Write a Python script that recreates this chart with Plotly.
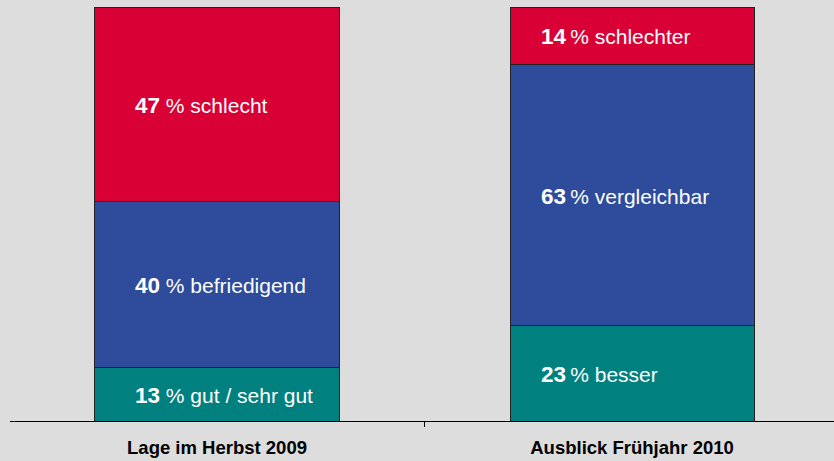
import plotly.graph_objects as go

categories = ["Lage im Herbst 2009", "Ausblick Frühjahr 2010"]
bottom_vals = [13, 23]
middle_vals = [40, 63]
top_vals = [47, 14]
bottom_names = ["gut / sehr gut", "besser"]
middle_names = ["befriedigend", "vergleichbar"]
top_names = ["schlecht", "schlechter"]

colors = ["#00807F", "#2E4C9B", "#D90036"]
BG = "#DDDDDD"
FONT = "Liberation Sans, Arial, sans-serif"

fig = go.Figure()
series = [(bottom_vals, bottom_names), (middle_vals, middle_names), (top_vals, top_names)]
for (vals, names), col in zip(series, colors):
    fig.add_trace(go.Bar(
        x=categories, y=vals, marker=dict(color=col, line=dict(color="#222222", width=1)),
        width=0.588, hoverinfo="skip", showlegend=False,
    ))

shifts = [-84, -93]
gaps = [" ", "\u2009"]
for ci, cat in enumerate(categories):
    base = 0
    for vals, names in series:
        v = vals[ci]
        mid = base + v / 2
        base += v
        fig.add_annotation(
            x=cat, y=mid, xref="x", yref="y", xanchor="left", yanchor="middle",
            xshift=shifts[ci], yshift=-1, showarrow=False,
            text=f"<b><span style='font-size:22.5px'>{v}</span></b>{gaps[ci]}% {names[ci]}",
            font=dict(family=FONT, size=21, color="white"),
        )

fig.update_layout(
    barmode="stack", width=834, height=461,
    margin=dict(l=10, r=0, t=7, b=40),
    paper_bgcolor=BG, plot_bgcolor=BG,
    xaxis=dict(type="category", range=[-0.4988, 1.4867], showline=True, linecolor="black",
               linewidth=1, ticks="outside", ticklen=5, tickcolor="black", tickson="boundaries",
               ticklabelstandoff=10,
               tickfont=dict(family=FONT, size=18.5, color="black"),
               showgrid=False, fixedrange=True),
    yaxis=dict(range=[0, 100], visible=False, showgrid=False, fixedrange=True),
    font=dict(family=FONT),
)
fig.update_xaxes(tickvals=categories, ticktext=[f"<b>{c}</b>" for c in categories])

fig.write_html("out.html", config={"displayModeBar": False},
               post_script="document.body.style.margin='0';document.body.style.background='#DDDDDD';")
